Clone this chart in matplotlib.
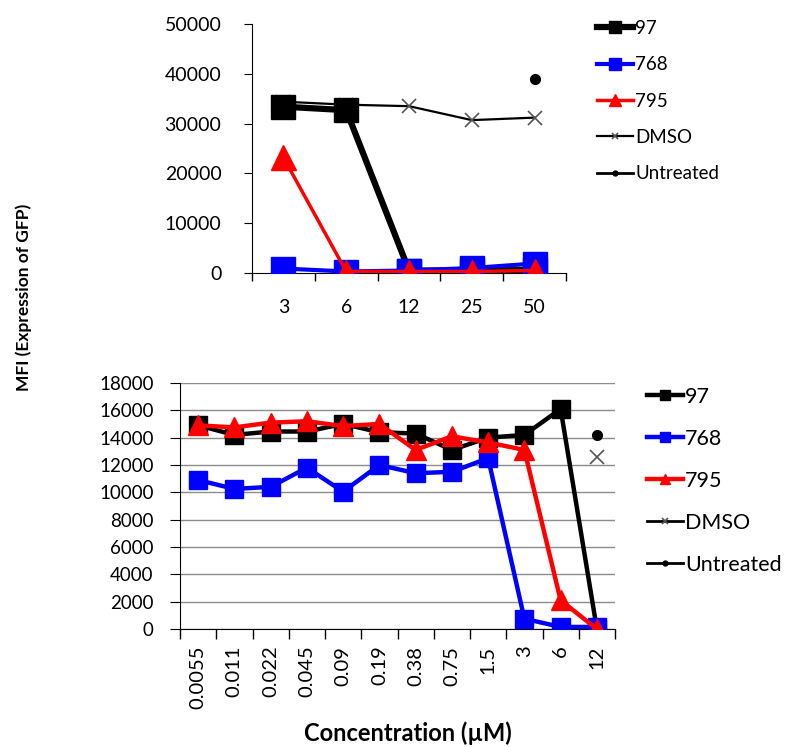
import numpy as np
import matplotlib
matplotlib.use("Agg")
import matplotlib.pyplot as plt

plt.rcParams['font.family'] = ['Lato', 'DejaVu Sans']

# ---- data: top panel
top_conc = ['3', '6', '12', '25', '50']
top_97 = [33400, 32700, 500, 500, 600]
top_768 = [900, 300, 500, 1000, 1900]
top_795 = [23200, 300, 300, 300, 500]
top_dmso = [34400, 33800, 33500, 30700, 31200]
top_untreated = [np.nan, np.nan, np.nan, np.nan, 38900]

# ---- data: bottom panel
bot_conc = ['0.0055', '0.011', '0.022', '0.045', '0.09', '0.19', '0.38', '0.75',
            '1.5', '3', '6', '12']
bot_97 = [14900, 14200, 14450, 14450, 15000, 14400, 14300, 13100, 14000, 14200, 16100, 0]
bot_768 = [10900, 10250, 10400, 11800, 10050, 12000, 11400, 11500, 12500, 750, 150, 150]
bot_795 = [14900, 14750, 15100, 15200, 14850, 15000, 13100, 14100, 13650, 13100, 2100, 0]
bot_dmso = [np.nan] * 11 + [12550]
bot_untreated = [np.nan] * 11 + [14200]

W, H = 788, 747
fig = plt.figure(figsize=(W / 100, H / 100), dpi=100)


def box(l, t, r, b):
    return [l / W, 1 - b / H, (r - l) / W, (b - t) / H]


def cat_axis(ax, labels, rot=0, fs=13, pad=8, tl=6):
    n = len(labels)
    ax.set_xlim(-0.5, n - 0.5)
    ax.set_xticks(np.arange(-0.5, n, 1))
    ax.set_xticklabels([])
    ax.set_xticks(range(n), minor=True)
    ax.set_xticklabels(labels, minor=True, rotation=rot, fontsize=fs)
    ax.tick_params(axis='x', which='major', length=tl, width=1, direction='out')
    ax.tick_params(axis='x', which='minor', length=0, pad=pad)
    for s in ['top', 'right']:
        ax.spines[s].set_visible(False)


# ---- top panel
ax1 = fig.add_axes(box(252, 24, 566, 273))
x = np.arange(len(top_conc))
ax1.plot(x, top_dmso, color='black', lw=1.6, marker='x', ms=10, mec='#555555', mew=1.2, label='DMSO', zorder=2)
ax1.plot(x, top_97, color='black', lw=4.5, marker='s', ms=17, label='97', zorder=3)
ax1.plot(x, top_768, color='blue', lw=3, marker='s', ms=17, label='768', zorder=4)
ax1.plot(x, top_795, color='red', lw=2.5, marker='^', ms=18, label='795', zorder=5)
ax1.plot(x, top_untreated, color='black', lw=2, marker='o', ms=7, label='Untreated', zorder=6)
ax1.set_ylim(0, 50000)
ax1.set_yticks(range(0, 50001, 10000))
ax1.tick_params(axis='y', length=6, labelsize=14, pad=16)
cat_axis(ax1, top_conc, fs=14, pad=19)
h, l = ax1.get_legend_handles_labels()
order = [1, 2, 3, 0, 4]
ax1.legend([h[i] for i in order], [l[i] for i in order], loc='upper left',
           bbox_to_anchor=(597 / W, 1 - 20 / H), bbox_transform=fig.transFigure,
           frameon=False, fontsize=13.5, markerscale=0.5, borderpad=0, borderaxespad=0,
           handlelength=1.93, handletextpad=0.12, labelspacing=1.03)

# ---- bottom panel
ax2 = fig.add_axes(box(180, 383, 615, 629))
x = np.arange(len(bot_conc))
ax2.plot(x, bot_97, color='black', lw=3.2, marker='s', ms=13, label='97', zorder=3)
ax2.plot(x, bot_768, color='blue', lw=3.2, marker='s', ms=13, label='768', zorder=4)
ax2.plot(x, bot_795, color='red', lw=3.2, marker='^', ms=14, label='795', zorder=5)
ax2.plot(x, bot_dmso, color='black', lw=2, marker='x', ms=10, mec='#555555', mew=1.2, label='DMSO', zorder=6)
ax2.plot(x, bot_untreated, color='black', lw=2, marker='o', ms=7, label='Untreated', zorder=6)
ax2.set_ylim(0, 18000)
ax2.set_yticks(range(0, 18001, 2000))
ax2.yaxis.grid(True, color='#8c8c8c', lw=1)
ax2.set_axisbelow(True)
ax2.tick_params(axis='y', length=7, labelsize=13.5, pad=12)
cat_axis(ax2, bot_conc, rot=90, fs=14.5, pad=12, tl=7)
ax2.legend(loc='upper left', bbox_to_anchor=(647 / W, 1 - 387 / H), bbox_transform=fig.transFigure,
           frameon=False, fontsize=15.5, markerscale=0.5, borderpad=0, borderaxespad=0,
           handlelength=1.68, handletextpad=0.1, labelspacing=1.02)

fig.text(24 / W, 1 - 297 / H, 'MFI (Expression of GFP)', rotation=90, ha='center', va='center',
         fontsize=12.5, fontweight='bold')
fig.text(408 / W, 1 - 733 / H, 'Concentration (\u00b5M)', ha='center', va='center',
         fontsize=17, fontweight='bold')

fig.savefig('out.png', dpi=100)
